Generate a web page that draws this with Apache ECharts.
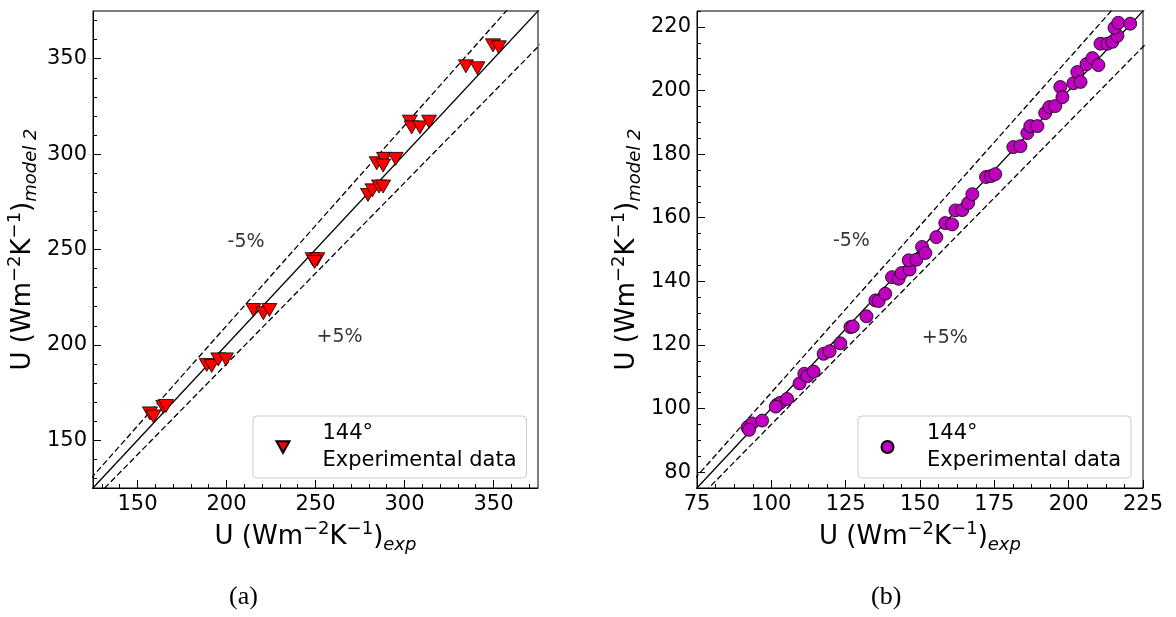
<!DOCTYPE html>
<html>
<head>
<meta charset="utf-8">
<script src="https://cdn.jsdelivr.net/npm/echarts@6/dist/echarts.min.js"></script>
<style>
html,body{margin:0;padding:0;background:#fff;}
#c{width:1176px;height:617px;}
</style>
</head>
<body>
<div id="c"></div>
<script>
// ---------- data ----------
const leftExp   = [157.0,159.0,164.5,166.0,188.9,191.7,195.4,199.7,215.1,220.7,224.1,248.4,251.0,249.5,279.5,282.0,285.7,288.0,284.4,288.5,288.0,295.0,303.0,304.0,308.7,313.8,334.5,341.0,349.7,353.0];
const leftModel = [164.1,162.5,167.5,168.0,189.5,189.0,192.4,192.4,218.3,216.6,218.3,244.9,244.9,243.5,278.6,281.0,283.0,283.0,295.2,297.5,294.0,297.5,317.0,314.0,314.0,317.0,346.0,345.0,357.0,356.0];

const rightExp   = [92.0,93.5,92.5,96.9,101.9,103.0,101.5,105.3,109.5,111.1,112.2,114.2,117.6,119.6,123.2,126.6,127.4,132.0,135.0,136.1,138.3,140.6,142.8,143.8,146.5,146.2,148.8,150.7,151.8,155.5,158.5,160.8,161.9,164.2,166.2,167.6,172.2,173.9,175.3,181.4,183.8,186.1,187.1,189.5,192.1,193.5,195.5,197.2,197.9,201.6,202.9,204.0,206.0,208.0,210.0,210.7,213.0,214.7,216.4,215.4,216.7,220.7];
const rightModel = [94.1,95.3,93.3,96.2,101.2,101.8,100.6,103.0,107.9,110.9,110.2,111.6,117.2,118.0,120.5,125.6,125.8,129.0,134.0,133.8,136.1,141.3,140.8,142.6,143.7,146.6,146.8,150.8,148.9,153.9,158.3,157.9,162.3,162.4,164.6,167.4,172.8,173.1,173.7,182.2,182.5,186.6,188.8,188.8,192.9,194.8,195.1,201.1,197.9,202.3,205.8,202.7,208.3,210.2,208.0,214.7,214.7,215.3,217.2,219.7,221.3,221.0];

const leftTicks  = [150,200,250,300,350];
const rightXTicks = [75,100,125,150,175,200,225];
const rightYTicks = [80,100,120,140,160,180,200,220];

const legendText = '144°\nExperimental data';
const captions = ['(a)','(b)'];
// reference lines: y = x, y = 1.05 x, y = 0.95 x (endpoints, clipped by axes)
const lineIdentity = [[50,50],[400,400]];
const lineUpper    = [[50,52.5],[400,420]];
const lineLower    = [[50,47.5],[400,380]];
// annotation positions (data coords)
const leftNotes  = [{name:'-5%', value:[211.3,253.4]},{name:'+5%', value:[263.8,203.6]}];
const rightNotes = [{name:'-5%', value:[127.1,152.4]},{name:'+5%', value:[158.5,122.0]}];

// ---------- helpers ----------
function minors(min, max, step){ const a=[]; for(let v=Math.ceil(min/step)*step; v<=max+1e-9; v+=step){ a.push(+v.toFixed(4)); } return a; }
const FONT = 'DejaVu Sans';
const richName = {
  t:{fontSize:26, fontFamily:FONT, color:'#000', lineHeight:34, verticalAlign:'middle'},
  sup:{fontSize:18, fontFamily:FONT, color:'#000', lineHeight:21, verticalAlign:'top'},
  sub:{fontSize:18, fontFamily:FONT, fontStyle:'italic', color:'#000', lineHeight:17, verticalAlign:'bottom'}
};
const xName = '{t|U (Wm}{sup|−2}{t|K}{sup|−1}{t|)}{sub|exp}';
const yName = '{t|U (Wm}{sup|−2}{t|K}{sup|−1}{t|)}{sub|model 2}';

function majorAxis(grid, min, max, ticks, name, isY){
  return {
    type:'value', gridIndex:grid, min:min, max:max, position: isY ? 'left' : 'bottom',
    name:name, nameLocation:'middle', nameGap: isY ? 53 : 26,
    nameTextStyle:{rich:richName},
    axisLine:{show:true, onZero:false, lineStyle:{color:'#000', width:1}},
    axisTick:{show:true, inside:true, length:8, customValues:ticks, lineStyle:{color:'#000', width:1}},
    axisLabel:{show:true, customValues:ticks, fontSize:21, fontFamily:FONT, color:'#000', margin:6},
    splitLine:{show:false}, minorTick:{show:false}
  };
}
function minorAxis(grid, min, max, vals, isY){
  return {
    type:'value', gridIndex:grid, min:min, max:max, position: isY ? 'left' : 'bottom',
    axisLine:{show:false, onZero:false},
    axisTick:{show:true, inside:true, length:4, customValues:vals, lineStyle:{color:'#000', width:1}},
    axisLabel:{show:false}, splitLine:{show:false}
  };
}

const refLine = (data, xi, dashed) => ({
  type:'line', data:data, xAxisIndex:xi, yAxisIndex:xi, showSymbol:false, symbol:'none', silent:true, z:1,
  lineStyle:{color:'#000', width:1.3, type: dashed ? [6,3] : 'solid'}, clip:true
});
const noteSeries = (data, xi) => ({
  type:'scatter', data:data, xAxisIndex:xi, yAxisIndex:xi, symbolSize:1, silent:true, z:5,
  itemStyle:{color:'rgba(0,0,0,0)'},
  label:{show:true, position:[0,0], align:'center', verticalAlign:'middle', formatter:'{b}', fontSize:19, fontFamily:FONT, color:'#000'}
});

const chart = echarts.init(document.getElementById('c'), null, {renderer:'canvas'});
const legendBase = {
  orient:'vertical', itemWidth:13, itemHeight:12, padding:[4,10,4,22.5],
  borderColor:'#cccccc', borderWidth:1, borderRadius:4, backgroundColor:'rgba(255,255,255,0.8)',
  textStyle:{fontSize:21, fontFamily:FONT, color:'#000', lineHeight:27, padding:[0,0,0,28]},
  formatter:()=>legendText, selectedMode:false
};

chart.setOption({
  animation:false,
  backgroundColor:'#fff',
  grid:[
    {left:93, top:11, width:445, height:477, show:true, borderColor:'#000', borderWidth:1, backgroundColor:'transparent'},
    {left:697, top:11, width:446, height:477, show:true, borderColor:'#000', borderWidth:1, backgroundColor:'transparent'}
  ],
  xAxis:[
    majorAxis(0,125,375,leftTicks,xName,false),
    minorAxis(0,125,375,minors(125,375,10),false),
    majorAxis(1,75,225,rightXTicks,xName,false),
    minorAxis(1,75,225,minors(75,225,6.25),false)
  ],
  yAxis:[
    majorAxis(0,125,375,leftTicks,yName,true),
    minorAxis(0,125,375,minors(125,375,10),true),
    majorAxis(1,75,225,rightYTicks,yName,true),
    minorAxis(1,75,225,minors(75,225,5),true)
  ],
  legend:[
    Object.assign({}, legendBase, {data:[{name:'A', icon:'path://M0,0L20,0L10,18Z'}], left:253, top:416}),
    Object.assign({}, legendBase, {data:['B'], left:858, top:416})
  ],
  graphic:[
    {type:'text', left:229, top:584, style:{text:captions[0], font:'26px "Liberation Serif"', fill:'#000'}},
    {type:'text', left:871, top:584, style:{text:captions[1], font:'26px "Liberation Serif"', fill:'#000'}}
  ],
  series:[
    refLine(lineIdentity,0,false), refLine(lineUpper,0,true), refLine(lineLower,0,true),
    refLine(lineIdentity,2,false), refLine(lineUpper,2,true), refLine(lineLower,2,true),
    noteSeries(leftNotes,0), noteSeries(rightNotes,2),
    {name:'A', type:'scatter', xAxisIndex:0, yAxisIndex:0, z:10,
     data:leftExp.map((v,i)=>[v,leftModel[i]]),
     symbol:'triangle', symbolRotate:180, symbolSize:[15,13],
     itemStyle:{color:'#ff0000', borderColor:'#000', borderWidth:0.8, opacity:1}},
    {name:'B', type:'scatter', xAxisIndex:2, yAxisIndex:2, z:10,
     data:rightExp.map((v,i)=>[v,rightModel[i]]),
     symbol:'circle', symbolSize:13,
     itemStyle:{color:'#bf00bf', borderColor:'#000', borderWidth:0.8, opacity:1}}
  ]
});
</script>
</body>
</html>
